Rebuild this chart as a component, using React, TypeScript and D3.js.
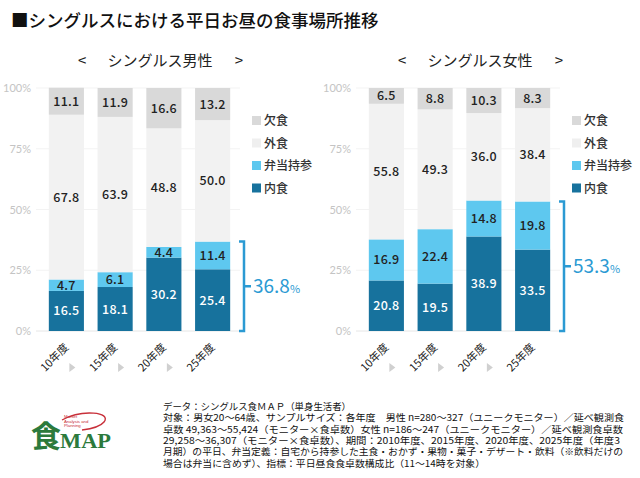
import React from 'react'
import * as d3 from 'd3'

const years = ['10年度', '15年度', '20年度', '25年度']
const seriesNames = ['内食', '弁当持参', '外食', '欠食']
const seriesColors = ['#17729d', '#5ec8ef', '#f2f2f2', '#d9d9d9']
const labelColors = ['#fff', '#222', '#222', '#222']
const yTicks = [0, 25, 50, 75, 100]

const maleUchi = [16.5, 18.1, 30.2, 25.4]
const maleBento = [4.7, 6.1, 4.4, 11.4]
const maleSoto = [67.8, 63.9, 48.8, 50.0]
const maleSkip = [11.1, 11.9, 16.6, 13.2]

const femaleUchi = [20.8, 19.5, 38.9, 33.5]
const femaleBento = [16.9, 22.4, 14.8, 19.8]
const femaleSoto = [55.8, 49.3, 36.0, 38.4]
const femaleSkip = [6.5, 8.8, 10.3, 8.3]

const notes = [
  'データ：シングルス食ＭＡＰ（単身生活者）',
  '対象：男女20～64歳、サンプルサイズ：各年度　男性 n=280～327（ユニークモニター）／延べ観測食',
  '卓数 49,363～55,424（モニター×食卓数）女性 n=186～247（ユニークモニター）／延べ観測食卓数',
  '29,258～36,307（モニター×食卓数）、期間：2010年度、2015年度、2020年度、2025年度（年度3',
  '月期）の平日、弁当定義：自宅から持参した主食・おかず・果物・菓子・デザート・飲料（※飲料だけの',
  '場合は弁当に含めず）、指標：平日昼食食卓数構成比（11～14時を対象）'
]
const noteWidths = [188, 461, 460, 457, 460, 322]

const FONT = '"Noto Sans CJK JP", "Noto Sans", sans-serif'
const ACCENT = '#2b9ad3'

const y = d3.scaleLinear().domain([0, 100]).range([331, 88])

function Panel ({ left, title, values }: { left: number, title: string, values: number[][] }) {
  const x = d3.scaleBand<string>().domain(years)
    .range([left + 42, left + 237]).paddingInner(0.28).paddingOuter(0.14)
  const rows = years.map((yr, i) => {
    const r: any = { year: yr }
    seriesNames.forEach((s, k) => { r[s] = values[k][i] })
    return r
  })
  const stacked = d3.stack<any>().keys(seriesNames)(rows)
  const last = years.length - 1
  const total = values[0][last] + values[1][last]
  const bx = left + 244
  const midY = y(total / 2)

  return (
    <g>
      <text x={left + 78} y={66} fontSize={15} fill='#222' fontFamily={FONT}>{'<'}</text>
      <text x={left + 160} y={66} textAnchor='middle' fontSize={15} fill='#222' fontFamily={FONT}>{title}</text>
      <text x={left + 243} y={66} textAnchor='end' fontSize={15} fill='#222' fontFamily={FONT}>{'>'}</text>
      {yTicks.map(t => (
        <g key={t}>
          <line x1={left + 36} x2={left + 240} y1={y(t)} y2={y(t)} stroke={t === 0 ? '#e6e6e6' : '#f3f3f3'} />
          <text x={left + 31} y={y(t) + 4} textAnchor='end' fontSize={11} fill='#c4c4c4' fontFamily='Lato, sans-serif'>{t}%</text>
        </g>
      ))}
      {stacked.map((layer, k) => (
        <g key={layer.key}>
          {layer.map((d, i) => (
            <g key={i}>
              <rect x={x(years[i])} width={x.bandwidth()} y={y(d[1])} height={y(d[0]) - y(d[1])} fill={seriesColors[k]} />
              <text x={(x(years[i]) as number) + x.bandwidth() / 2} y={(y(d[0]) + y(d[1])) / 2 + 4.5}
                textAnchor='middle' fontSize={12.5} fontWeight={500} fill={labelColors[k]} fontFamily={FONT}
                letterSpacing={0.3}>
                {values[k][i].toFixed(1)}
              </text>
            </g>
          ))}
        </g>
      ))}
      {years.map((yr, i) => {
        const cx = (x(yr) as number) + x.bandwidth() / 2
        return (
          <g key={yr}>
            <text transform={`translate(${cx + 3},${348}) rotate(-45)`} textAnchor='end' fontSize={11} fill='#222' fontFamily={FONT}>{yr}</text>
            {i < last && <path d={`M${cx + 3},${363}l6,4.5l-6,4.5z`} fill='#d0d0d0' />}
          </g>
        )
      })}
      {seriesNames.slice().reverse().map((s, j) => {
        const k = seriesNames.length - 1 - j
        const ly = 121 + j * 22.5
        return (
          <g key={s}>
            <rect x={left + 252} y={ly - 5} width={9} height={9} fill={seriesColors[k] === '#f2f2f2' ? '#efefef' : seriesColors[k]} />
            <text x={left + 264} y={ly + 4} fontSize={12} fontWeight={500} fill='#333' fontFamily={FONT}>{s}</text>
          </g>
        )
      })}
      <path d={`M${bx - 5},${y(total)}H${bx}V${y(0)}H${bx - 5}M${bx},${midY}H${bx + 7}`}
        stroke={ACCENT} strokeWidth={2.5} fill='none' />
      <text x={bx + 9} y={midY + 7} fill={ACCENT} fontFamily={FONT} fontSize={19}>
        {total.toFixed(1)}<tspan fontSize={11}>%</tspan>
      </text>
    </g>
  )
}

export default function App () {
  return (
    <svg width={640} height={478} style={{ position: 'absolute', left: 0, top: 0, background: '#fff' }}>
      <rect width={640} height={478} fill='#fff' />
      <text x={11} y={27} fontSize={17.5} fontWeight={500} fill='#111' fontFamily={FONT}>■シングルスにおける平日お昼の食事場所推移</text>
      <Panel left={0} title='シングルス男性' values={[maleUchi, maleBento, maleSoto, maleSkip]} />
      <Panel left={320} title='シングルス女性' values={[femaleUchi, femaleBento, femaleSoto, femaleSkip]} />
      <g>
        <path d='M62,420 C82,409 112,412 104,422 C100,427 90,429 82,430' stroke='#c8303a' strokeWidth={1.4} fill='none' />
        <text x={64} y={418} fontSize={4.3} fill='#c8303a' fontFamily='Liberation Sans, sans-serif'>Market</text>
        <text x={64} y={422.5} fontSize={4.3} fill='#c8303a' fontFamily='Liberation Sans, sans-serif'>Analysis and</text>
        <text x={64} y={427} fontSize={4.3} fill='#c8303a' fontFamily='Liberation Sans, sans-serif'>Planning</text>
        <text x={31} y={447} fontSize={30} fontWeight={700} fill='#2c7a3c' fontFamily={FONT}>食</text>
        <text x={60} y={448} fontSize={21} fontWeight={700} fill='#2c7a3c' fontFamily='Liberation Serif, serif' textLength={51} lengthAdjust='spacingAndGlyphs'>MAP</text>
      </g>
      {notes.map((n, i) => (
        <text key={i} x={163} y={410 + i * 11.3} fontSize={9.5} fill='#111' fontFamily={FONT}
          textLength={noteWidths[i]} lengthAdjust='spacingAndGlyphs'>{n}</text>
      ))}
    </svg>
  )
}
